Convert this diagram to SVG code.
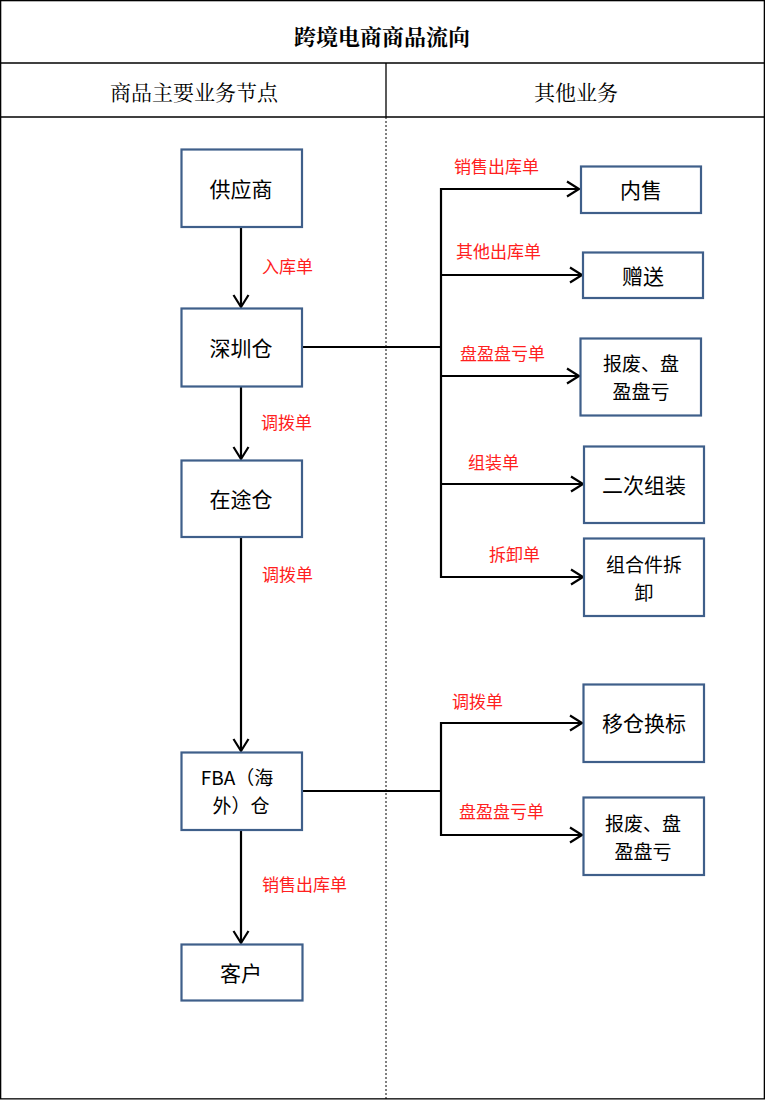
<svg xmlns="http://www.w3.org/2000/svg" width="765" height="1100" viewBox="0 0 765 1100">
<style>
.frame{fill:none;stroke:#000;stroke-width:1.3}
.box{fill:#fff;stroke:#3F5F8A;stroke-width:2.2}
.t{font-family:"Noto Sans CJK SC","Microsoft YaHei",sans-serif;font-size:21px;fill:#000;text-anchor:middle;dominant-baseline:central}
.t2{font-size:19px}
.lbl{font-family:"Noto Sans CJK SC",sans-serif;font-size:17px;fill:#FF2020;text-anchor:start;dominant-baseline:central}
.hdr{font-family:"Noto Serif CJK SC","Noto Sans CJK SC",serif;font-size:21px;fill:#000;text-anchor:middle;dominant-baseline:central}
.title{font-family:"Noto Serif CJK SC","Noto Sans CJK SC",serif;font-size:22px;font-weight:bold;fill:#000;text-anchor:middle;dominant-baseline:central}
.ln{fill:none;stroke:#000;stroke-width:2.2}
.ar{fill:none;stroke:#000;stroke-width:2.2;marker-end:url(#arr)}
</style>
<defs>
<marker id="arr" markerUnits="userSpaceOnUse" viewBox="-15 -10 18 20" markerWidth="18" markerHeight="20" refX="0" refY="0" orient="auto">
<path d="M-12,-7.5 L0,0 L-12,7.5" fill="none" stroke="#000" stroke-width="2.2"/>
</marker>
</defs>
<rect x="0" y="0" width="765" height="1100" fill="#fff"/>
<g id="frame">
<rect class="frame" x="0.65" y="0.65" width="763.7" height="1098.2"/>
<line class="frame" x1="0" y1="63" x2="765" y2="63"/>
<line class="frame" x1="0" y1="117" x2="765" y2="117"/>
<line class="frame" x1="386" y1="63" x2="386" y2="117"/>
<line x1="386" y1="117" x2="386" y2="1099" stroke="#000" stroke-width="1" stroke-dasharray="2,2"/>
<text class="title" x="382" y="35">跨境电商商品流向</text>
<text class="hdr" x="194" y="91">商品主要业务节点</text>
<text class="hdr" x="576" y="91">其他业务</text>
</g>
<g id="connectors">
<line class="ar" x1="241" y1="227" x2="241" y2="307"/>
<line class="ar" x1="241" y1="387" x2="241" y2="459"/>
<line class="ar" x1="241" y1="537" x2="241" y2="751"/>
<line class="ar" x1="241" y1="830" x2="241" y2="943"/>
<polyline class="ln" points="302,347 441,347"/>
<line class="ln" x1="441" y1="188" x2="441" y2="578"/>
<line class="ar" x1="440" y1="189" x2="579" y2="189"/>
<line class="ar" x1="440" y1="275" x2="582" y2="275"/>
<line class="ar" x1="440" y1="376" x2="579" y2="376"/>
<line class="ar" x1="440" y1="484" x2="583" y2="484"/>
<line class="ar" x1="440" y1="577" x2="583" y2="577"/>
<polyline class="ln" points="302,791 441,791"/>
<line class="ln" x1="441" y1="722" x2="441" y2="836"/>
<line class="ar" x1="440" y1="723" x2="582" y2="723"/>
<line class="ar" x1="440" y1="835" x2="582" y2="835"/>
<text class="lbl" x="262" y="265">入库单</text>
<text class="lbl" x="261" y="421">调拨单</text>
<text class="lbl" x="262" y="573">调拨单</text>
<text class="lbl" x="262" y="883">销售出库单</text>
<text class="lbl" x="454" y="165">销售出库单</text>
<text class="lbl" x="456" y="250">其他出库单</text>
<text class="lbl" x="460" y="352">盘盈盘亏单</text>
<text class="lbl" x="468" y="461">组装单</text>
<text class="lbl" x="489" y="553">拆卸单</text>
<text class="lbl" x="452" y="700">调拨单</text>
<text class="lbl" x="459" y="810">盘盈盘亏单</text>
</g>
<g id="n-supplier"><rect class="box" x="181.5" y="149.5" width="120.5" height="77.5"/><text class="t" x="241" y="188">供应商</text></g>
<g id="n-shenzhen"><rect class="box" x="181.5" y="308.5" width="120.5" height="78"/><text class="t" x="241" y="347">深圳仓</text></g>
<g id="n-transit"><rect class="box" x="181.5" y="460.5" width="120.5" height="76.5"/><text class="t" x="241" y="498">在途仓</text></g>
<g id="n-fba"><rect class="box" x="181.5" y="752.5" width="120.5" height="77.5"/><text class="t t2"><tspan x="237" y="776">FBA（海</tspan><tspan x="241" y="804">外）仓</tspan></text></g>
<g id="n-customer"><rect class="box" x="181.5" y="944.5" width="121" height="56"/><text class="t" x="241" y="972">客户</text></g>
<g id="n-neishou"><rect class="box" x="581" y="166.5" width="120" height="46.5"/><text class="t" x="641" y="189">内售</text></g>
<g id="n-zengsong"><rect class="box" x="583" y="252.5" width="120" height="45.5"/><text class="t" x="643" y="275">赠送</text></g>
<g id="n-baofei1"><rect class="box" x="580.5" y="338.5" width="120.5" height="77"/><text class="t t2"><tspan x="641" y="362">报废、盘</tspan><tspan x="641" y="390">盈盘亏</tspan></text></g>
<g id="n-zuzhuang"><rect class="box" x="584" y="446.5" width="120" height="76.5"/><text class="t" x="644" y="484">二次组装</text></g>
<g id="n-chaixie"><rect class="box" x="584" y="538.5" width="120" height="77.5"/><text class="t t2"><tspan x="644" y="563">组合件拆</tspan><tspan x="644" y="591">卸</tspan></text></g>
<g id="n-yicang"><rect class="box" x="583.5" y="684.5" width="120.5" height="77.5"/><text class="t" x="644" y="722">移仓换标</text></g>
<g id="n-baofei2"><rect class="box" x="583.5" y="797.5" width="120.5" height="77.5"/><text class="t t2"><tspan x="643" y="822">报废、盘</tspan><tspan x="643" y="850">盈盘亏</tspan></text></g>
</svg>
